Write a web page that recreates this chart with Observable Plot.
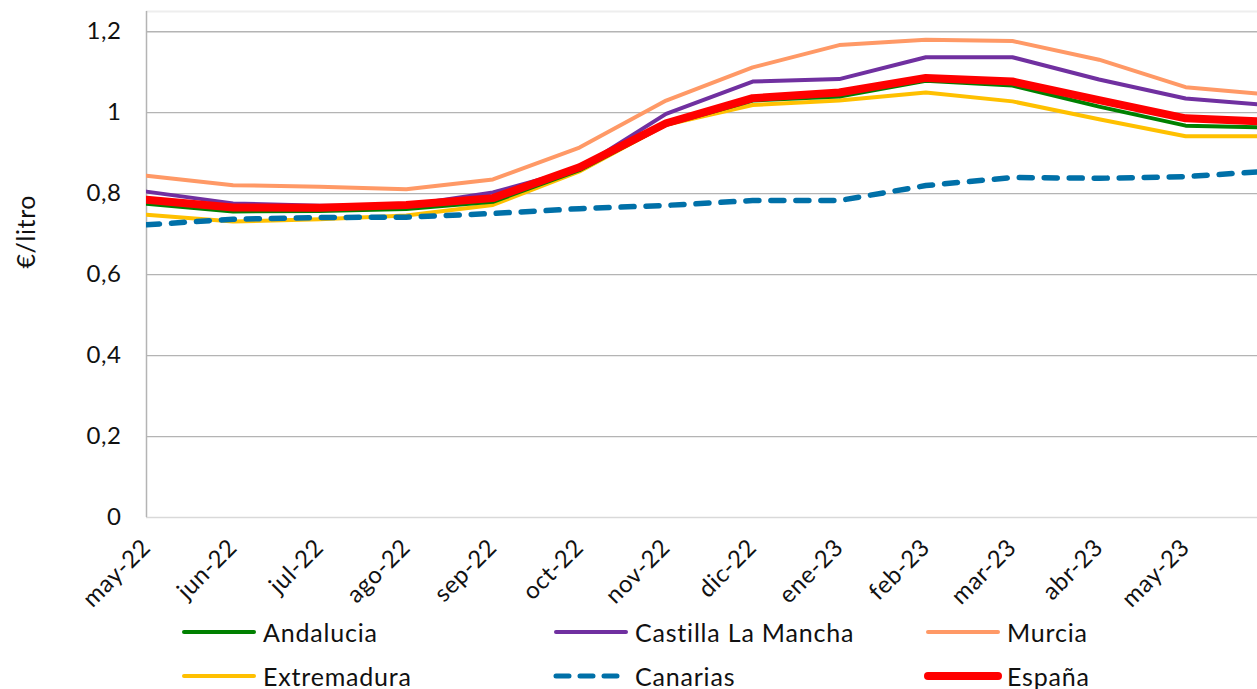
<!DOCTYPE html>
<html>
<head>
<meta charset="utf-8">
<script src="https://cdn.jsdelivr.net/npm/d3@7"></script>
<script src="https://cdn.jsdelivr.net/npm/@observablehq/plot@0.6"></script>
<style>
  html, body { margin: 0; padding: 0; background: #fff; }
  body { width: 1257px; height: 689px; overflow: hidden; font-family: Lato, "Open Sans", sans-serif; }
  #legend { position: relative; width: 1257px; height: 69px; }
  .item { position: absolute; display: flex; align-items: center; height: 24px; font-size: 25px; line-height: 24px; letter-spacing: 0.8px; color: #111; }
  .item span { line-height: 24px; }
  .item svg { margin-right: 5px; }
  #chart svg text { letter-spacing: 0.6px; }
</style>
</head>
<body>
<div id="chart"></div>
<div id="legend"></div>
<script>
const months = ["may-22","jun-22","jul-22","ago-22","sep-22","oct-22","nov-22","dic-22","ene-23","feb-23","mar-23","abr-23","may-23","jun-23"];
const andalucia   = [0.775, 0.756, 0.757, 0.762, 0.780, 0.858, 0.970, 1.030, 1.040, 1.079, 1.067, 1.015, 0.968, 0.963];
const castilla    = [0.805, 0.776, 0.770, 0.771, 0.803, 0.862, 0.997, 1.077, 1.083, 1.137, 1.137, 1.082, 1.035, 1.018];
const murcia      = [0.844, 0.821, 0.817, 0.811, 0.835, 0.914, 1.030, 1.112, 1.167, 1.180, 1.177, 1.131, 1.063, 1.044];
const extremadura = [0.748, 0.731, 0.737, 0.746, 0.772, 0.855, 0.970, 1.019, 1.030, 1.050, 1.028, 0.984, 0.942, 0.942];
const canarias    = [0.723, 0.737, 0.741, 0.742, 0.751, 0.763, 0.771, 0.783, 0.783, 0.820, 0.840, 0.838, 0.842, 0.856];
const espana      = [0.785, 0.766, 0.765, 0.772, 0.789, 0.865, 0.974, 1.036, 1.050, 1.086, 1.077, 1.031, 0.986, 0.977];
const yTicks = [0, 0.2, 0.4, 0.6, 0.8, 1, 1.2];

const seriesNames = ["Andalucia", "Castilla La Mancha", "Murcia", "Extremadura", "Canarias", "España"];
const seriesValues = [andalucia, castilla, murcia, extremadura, canarias, espana];
const styles = {
  "Andalucia":          {stroke: "#008000", strokeWidth: 4},
  "Castilla La Mancha": {stroke: "#7030A0", strokeWidth: 4},
  "Murcia":             {stroke: "#FF9966", strokeWidth: 4},
  "Extremadura":        {stroke: "#FFC000", strokeWidth: 4},
  "Canarias":           {stroke: "#0070A8", strokeWidth: 5.5, strokeDasharray: "13,12", strokeLinecap: "round"},
  "España":             {stroke: "#FF0000", strokeWidth: 8}
};
const drawOrder = ["Murcia", "Castilla La Mancha", "Extremadura", "Andalucia", "Canarias", "España"];

const rows = seriesNames.map((name, k) => seriesValues[k].map((v, i) => ({name, i, month: months[i], v})));
const byName = Object.fromEntries(seriesNames.map((n, k) => [n, rows[k]]));

const fmt = d => String(d).replace(".", ",");

const chart = Plot.plot({
  width: 1257,
  height: 620,
  marginLeft: 146,
  marginRight: 0,
  marginTop: 11,
  marginBottom: 103,
  style: {fontFamily: "Lato, 'Open Sans', sans-serif", color: "#111", background: "#fff"},
  x: {type: "linear", domain: [0, 12.83]},
  y: {domain: [0, 1.25]},
  marks: [
    Plot.ruleY(yTicks.filter(d => d > 0), {stroke: "#b4b4b4", strokeWidth: 1.3}),
    Plot.ruleY([1.25], {stroke: "#eeeeee", strokeWidth: 2}),
    Plot.ruleY([0], {stroke: "#d9d9d9", strokeWidth: 1.5}),
    Plot.ruleX([0], {y1: 0, y2: 1.25, stroke: "#b4b4b4", strokeWidth: 1.5}),
    ...drawOrder.map(n => Plot.lineY(byName[n], {x: "i", y: "v", clip: true, strokeLinejoin: "round", ...styles[n]})),
    Plot.axisY({ticks: yTicks, tickFormat: fmt, tickSize: 0, tickPadding: 25, fontSize: 24, label: null}),
    Plot.axisX({ticks: d3.range(0, 13), tickFormat: i => months[i], tickRotate: -45, tickSize: 0, tickPadding: 26, fontSize: 24, label: null}),
    Plot.text(["€/litro"], {frameAnchor: "left", dx: -120, dy: 4, rotate: -90, fontSize: 25})
  ]
});
document.getElementById("chart").appendChild(chart);

// Legend (row centres at page y 632 and 676)
const legendPos = {
  "Andalucia":          [180, 12],
  "Castilla La Mancha": [552, 12],
  "Murcia":             [924, 12],
  "Extremadura":        [180, 56],
  "Canarias":           [552, 56],
  "España":             [924, 56]
};
const legend = document.getElementById("legend");
for (const n of seriesNames) {
  const s = styles[n];
  const [lx, ly] = legendPos[n];
  const div = document.createElement("div");
  div.className = "item";
  div.style.left = lx + "px";
  div.style.top = (ly - 12) + "px";
  const dash = s.strokeDasharray ? `stroke-dasharray="13,11"` : "";
  const w = n === "Canarias" ? 5 : s.strokeWidth;
  div.innerHTML = `<svg width="78" height="14"><line x1="4" x2="74" y1="7" y2="7" stroke="${s.stroke}" stroke-width="${w}" stroke-linecap="round" ${dash}/></svg><span>${n}</span>`;
  legend.appendChild(div);
}
</script>
</body>
</html>
